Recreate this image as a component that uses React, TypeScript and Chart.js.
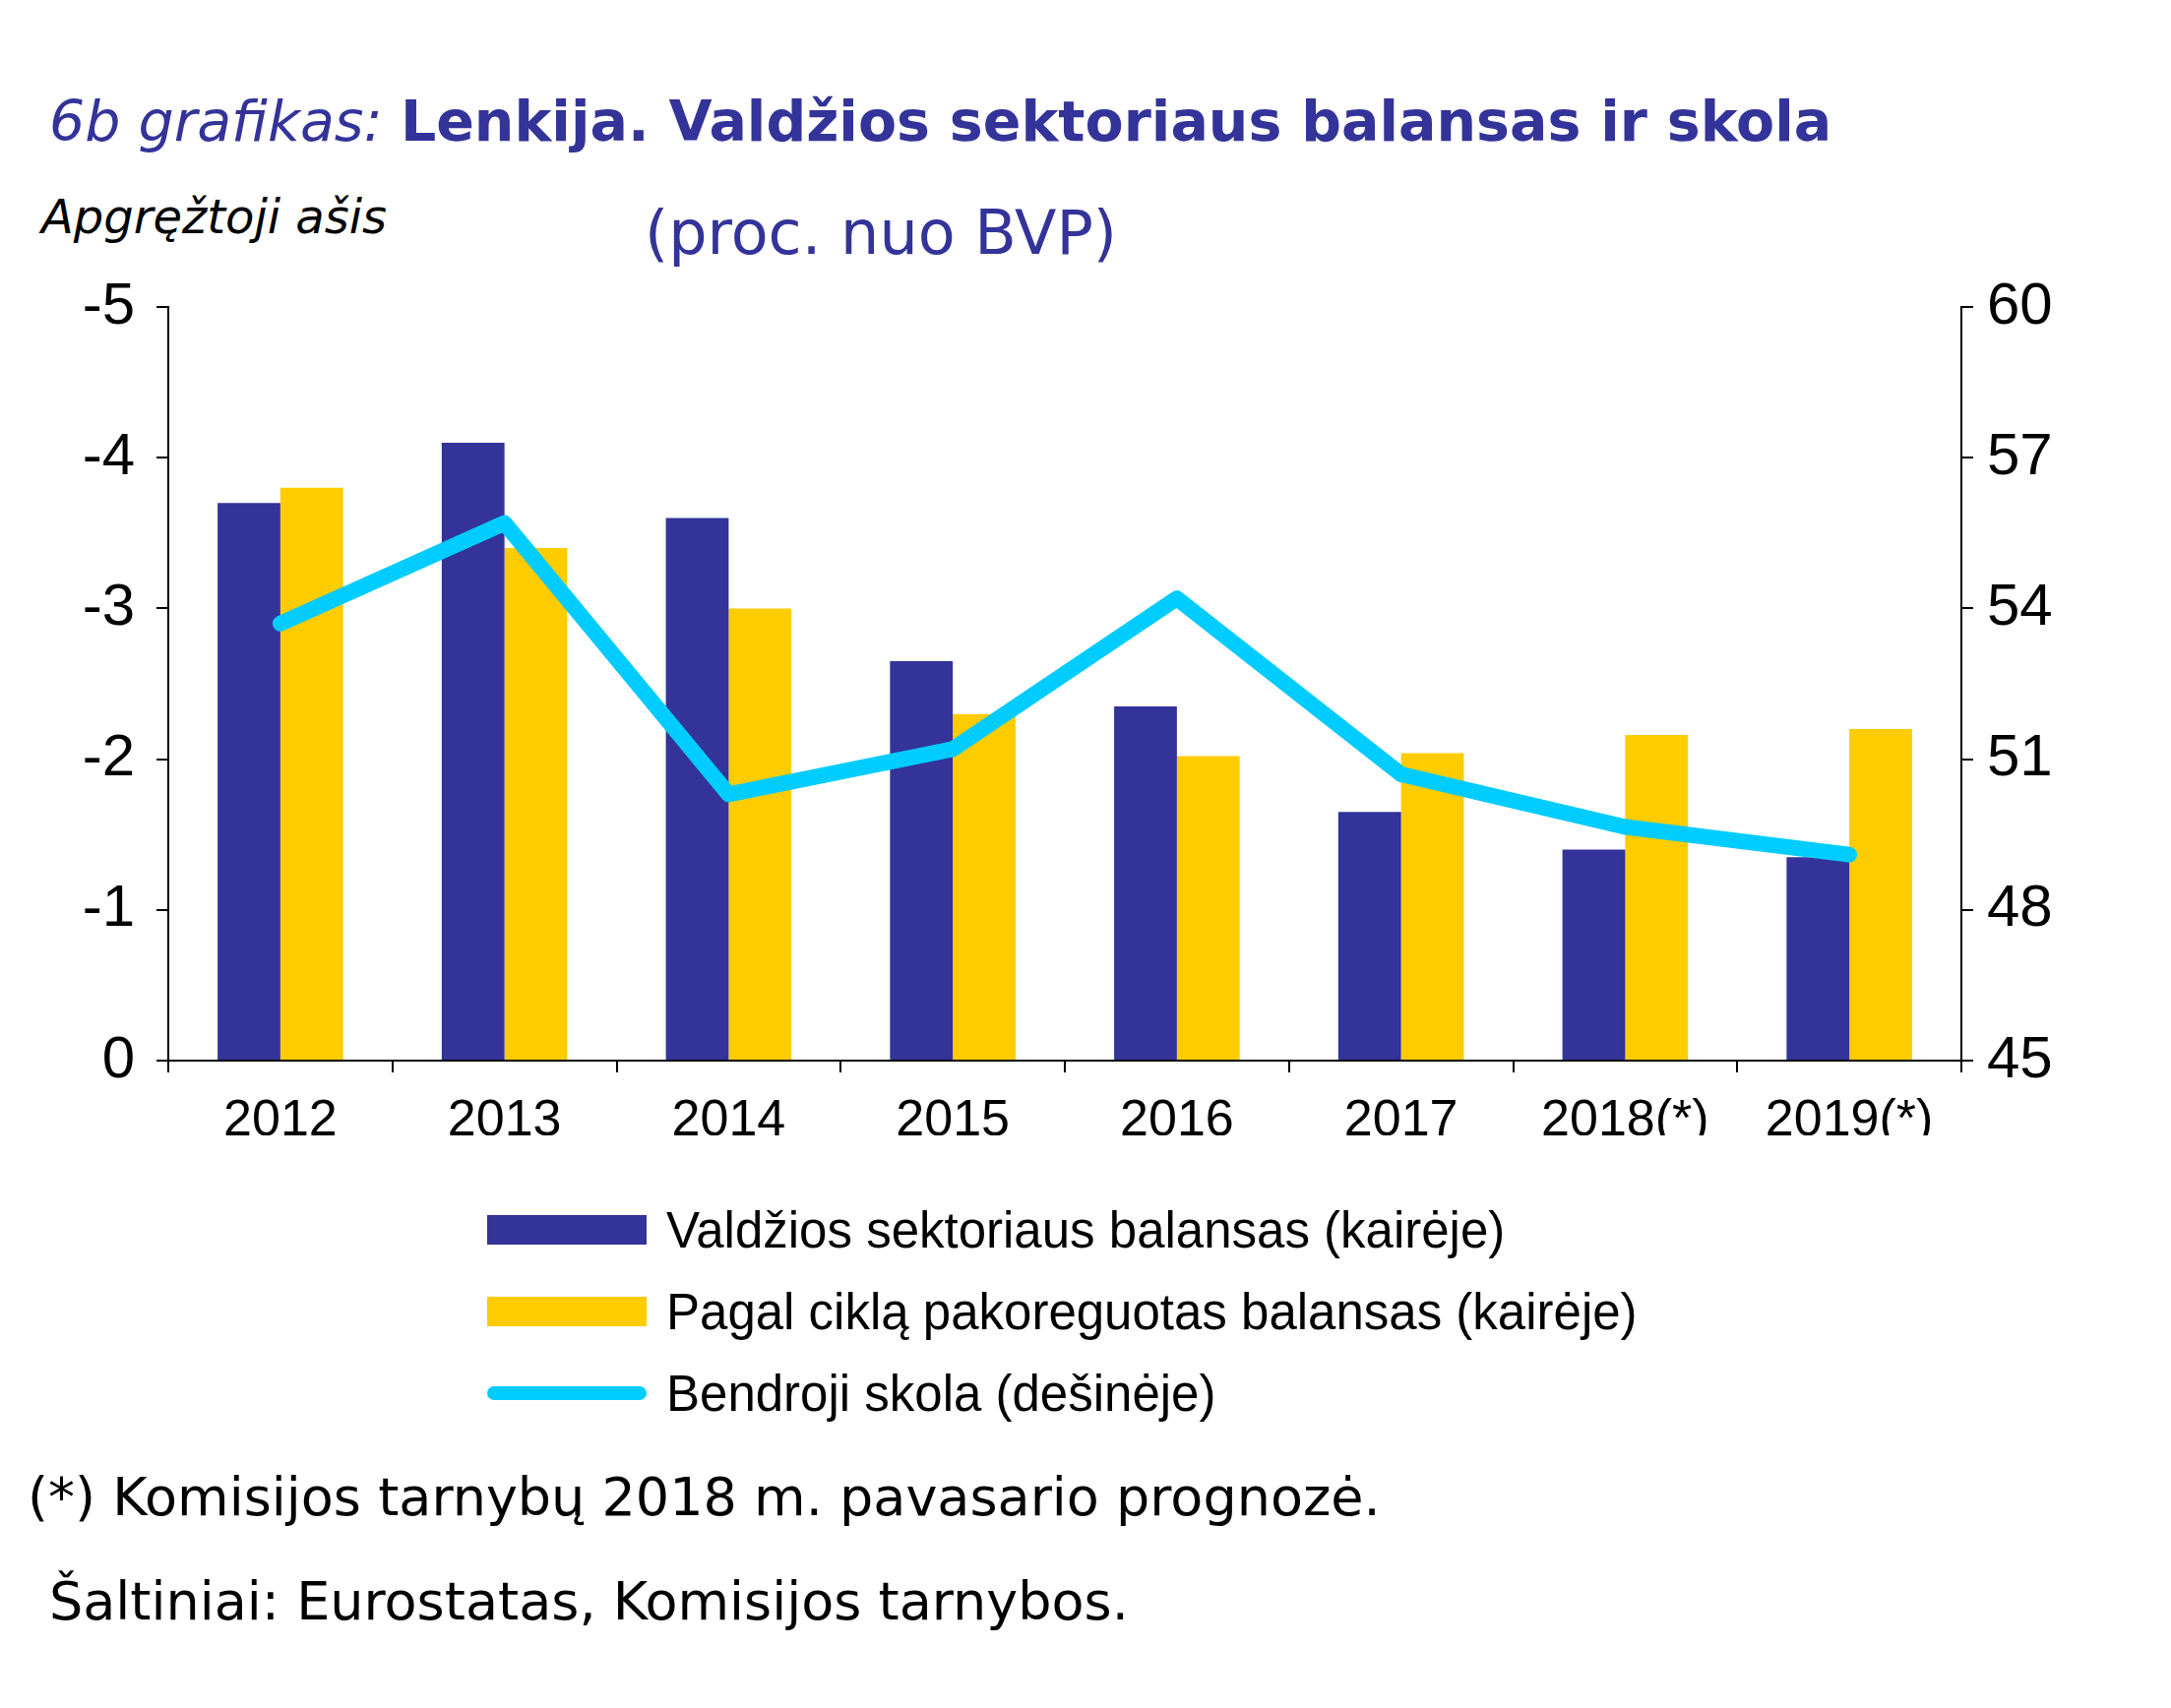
import React, { useEffect, useRef } from "react";
import { Chart, registerables } from "chart.js";
Chart.register(...registerables);

const categories = ["2012", "2013", "2014", "2015", "2016", "2017", "2018(*)", "2019(*)"];
const balance = [-3.7, -4.1, -3.6, -2.65, -2.35, -1.65, -1.4, -1.35];
const cyclAdj = [-3.8, -3.4, -3.0, -2.3, -2.02, -2.04, -2.16, -2.2];
const debt = [53.7, 55.7, 50.3, 51.2, 54.2, 50.7, 49.65, 49.1];

const BLUE = "#333399", YELLOW = "#FFCC00", CYAN = "#00CCFF";
const F = "'Liberation Sans', Arial, sans-serif";
const G = "'DejaVu Sans', 'Liberation Sans', sans-serif";

export default function App() {
  const ref = useRef<HTMLCanvasElement>(null);
  useEffect(() => {
    const c = new Chart(ref.current!, {
      type: "bar",
      data: {
        labels: categories,
        datasets: [
          { type: "line", data: debt, yAxisID: "y2", borderColor: CYAN, borderWidth: 16, pointRadius: 0, tension: 0, order: 0, borderCapStyle: "round", borderJoinStyle: "round" } as any,
          { data: balance, backgroundColor: BLUE, yAxisID: "y", order: 1, categoryPercentage: 0.56, barPercentage: 1 },
          { data: cyclAdj, backgroundColor: YELLOW, yAxisID: "y", order: 1, categoryPercentage: 0.56, barPercentage: 1 },
        ],
      },
      options: {
        responsive: false, animation: false,
        layout: { padding: { top: 31, left: 0, right: 0, bottom: 0 } },
        plugins: { legend: { display: false }, tooltip: { enabled: false } },
        scales: {
          x: {
            grid: { display: true, drawOnChartArea: false, drawTicks: true, tickLength: 12, color: "#000", lineWidth: 2 },
            border: { color: "#000", width: 2 },
            ticks: { color: "#000", font: { family: F, size: 52 }, padding: 18 },
            afterFit: (s: any) => { s.height = 76; },
          },
          y: {
            reverse: true, min: -5, max: 0, position: "left",
            grid: { display: true, drawOnChartArea: false, tickLength: 12, color: "#000", lineWidth: 2 },
            border: { color: "#000", width: 2 },
            ticks: { stepSize: 1, color: "#000", font: { family: F, size: 60 }, padding: 22 },
            afterFit: (s: any) => { s.width = 171; },
          },
          y2: {
            min: 45, max: 60, position: "right",
            grid: { display: true, drawOnChartArea: false, tickLength: 12, color: "#000", lineWidth: 2 },
            border: { color: "#000", width: 2 },
            ticks: { stepSize: 3, color: "#000", font: { family: F, size: 60 }, padding: 14 },
            afterFit: (s: any) => { s.width = 213; },
          },
        },
      },
    });
    return () => c.destroy();
  }, []);

  const legend = [
    { label: "Valdžios sektoriaus balansas (kairėje)", color: BLUE, h: 30 },
    { label: "Pagal ciklą pakoreguotas balansas (kairėje)", color: YELLOW, h: 30 },
    { label: "Bendroji skola (dešinėje)", color: CYAN, h: 14 },
  ];

  return (
    <div style={{ position: "relative", width: 2206, height: 1736, background: "#fff", margin: -8 }}>
      <div style={{ position: "absolute", left: 50, top: 90, fontFamily: G, fontSize: 57, color: BLUE, whiteSpace: "nowrap" }}>
        <span style={{ fontStyle: "italic" }}>6b grafikas: </span>
        <span style={{ fontWeight: "bold" }}>Lenkija. Valdžios sektoriaus balansas ir skola</span>
      </div>
      <div style={{ position: "absolute", left: 42, top: 192, fontFamily: G, fontSize: 48, fontStyle: "italic", color: "#000" }}>Apgręžtoji ašis</div>
      <div style={{ position: "absolute", left: 655, top: 200, fontFamily: G, fontSize: 62, color: BLUE }}>(proc. nuo BVP)</div>
      <canvas ref={ref} width={2206} height={900} style={{ position: "absolute", left: 0, top: 254, width: 2206, height: 900 }} />
      {legend.map((l, i) => (
        <div key={i} style={{ position: "absolute", left: 495, top: 1220 + i * 83, height: 60, display: "flex", alignItems: "center" }}>
          <div style={{ width: 162, height: l.h, background: l.color, borderRadius: l.h === 14 ? 7 : 0 }} />
          <span style={{ marginLeft: 20, fontFamily: F, fontSize: 51, color: "#000", whiteSpace: "nowrap" }}>{l.label}</span>
        </div>
      ))}
      <div style={{ position: "absolute", left: 28, top: 1490, fontFamily: G, fontSize: 54, color: "#000", whiteSpace: "nowrap" }}>(*) Komisijos tarnybų 2018 m. pavasario prognozė.</div>
      <div style={{ position: "absolute", left: 50, top: 1596, fontFamily: G, fontSize: 54, color: "#000", whiteSpace: "nowrap" }}>Šaltiniai: Eurostatas, Komisijos tarnybos.</div>
    </div>
  );
}
